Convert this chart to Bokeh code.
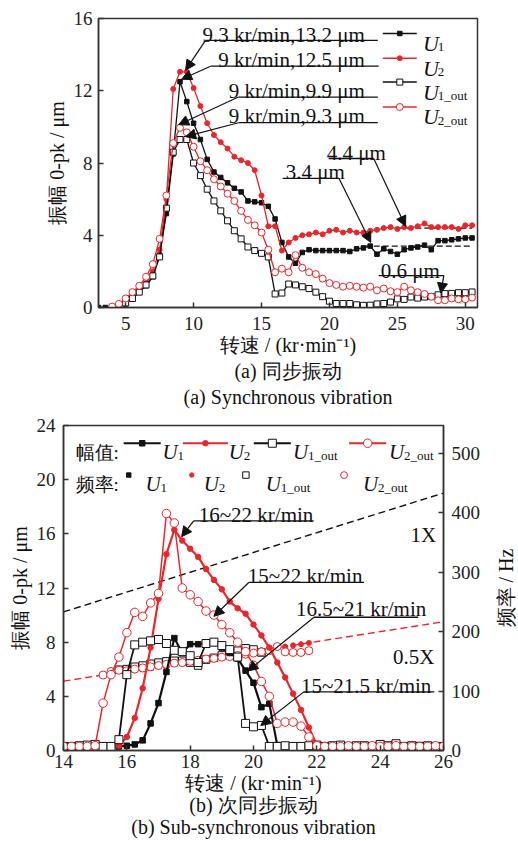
import math
from bokeh.plotting import figure
from bokeh.models import Range1d, LinearAxis, Label, Arrow, NormalHead, FixedTicker
from bokeh.layouts import row
from bokeh.embed import file_html
from bokeh.resources import INLINE

NAN = float("nan")
FONT = "Liberation Serif"
RED = "#e8262b"
BLACK = "#111111"
AXC = "#333333"

# ---------------- data (a) synchronous vibration ----------------
speed_a = [3.0, 3.5, 4.0, 4.5, 5.0, 5.5, 6.0, 6.5, 7.0, 7.5,
           8.0, 8.5, 9.0, 9.5, 10.0, 10.5, 11.0, 11.5, 12.0, 12.5,
           13.0, 13.5, 14.0, 14.5, 15.0, 15.5, 16.0, 16.5, 17.0, 17.5,
           18.0, 18.5, 19.0, 19.5, 20.0, 20.5, 21.0, 21.5, 22.0, 22.5,
           23.0, 23.5, 24.0, 24.5, 25.0, 25.5, 26.0, 26.5, 27.0, 27.5,
           28.0, 28.5, 29.0, 29.5, 30.0, 30.5]
u1_a = [0.0, 0.0, 0.0, 0.05, 0.2, 0.55, 0.85, 1.2, 1.7, 2.9,
        5.2, 8.5, 12.5, 11.4, 10.2, 9.3, 8.2, 7.5, 7.2, 6.9,
        6.6, 6.4, 5.9, 5.85, 5.8, 5.6, 4.9, 3.6, 2.8, 2.45,
        3.05, 3.2, 3.15, 3.15, 3.15, 3.15, 3.15, 3.1, 3.25, 3.3,
        3.4, 2.95, 3.25, 3.1, 2.95, 3.2, 3.3, 3.35, 3.45, 3.2,
        3.7, 3.7, 3.75, 3.8, 3.85, 3.85]
u2_a = [NAN, NAN, 0.05, 0.15, 0.35, 0.65, 0.95, 1.35, 2.0, 3.2,
        6.0, 12.1, 13.05, 13.05, 12.15, 11.15, 10.2, 9.55, 9.15, 8.8,
        8.35, 8.15, 8.0, 7.6, 6.2, 4.5, 4.5, 3.15, 3.6, 3.85,
        4.0, 4.05, 4.15, 4.05, 4.25, 4.3, 4.15, 4.25, 4.15, 4.15,
        4.25, 4.3, 4.4, 4.45, 4.35, 4.45, 4.4, 4.5, 4.65, 4.45,
        4.45, 4.45, 4.45, 4.35, 4.55, 4.55]
u1out_a = [NAN, NAN, NAN, 0.05, 0.25, 0.5, 0.85, 1.25, 1.75, 2.8,
           5.5, 8.6, 9.3, 9.3, 8.0, 7.3, 6.55, 5.9, 5.35, 4.8,
           4.25, 3.8, 3.35, 3.15, 3.0, 2.8, 0.75, 0.8, 1.3, 1.25,
           1.15, 1.05, 0.85, 0.6, 0.35, 0.22, 0.22, 0.22, 0.15, 0.12,
           0.13, 0.2, 0.22, 0.3, 0.48, 0.45, 0.58, 0.52, 0.58, 0.6,
           0.7, 0.77, 0.78, 0.82, 0.82, 0.86]
u2out_a = [NAN, NAN, 0.05, 0.2, 0.5, 0.85, 1.2, 1.7, 2.4, 3.8,
           6.2, 9.1, 9.95, 9.7, 8.9, 8.1, 7.6, 7.1, 6.7, 6.3,
           5.9, 5.35, 4.85, 4.55, 4.15, 3.2, 1.95, 2.15, 1.95, 2.9,
           2.2, 1.95, 1.85, 1.6, 1.35, 1.25, 1.15, 1.2, 1.15, 1.1,
           1.15, 0.95, 1.05, 0.9, 0.85, 1.15, 0.95, 0.85, 0.75, 0.6,
           0.4, 0.4, 0.5, 0.45, 0.45, 0.55]
ref_levels_a = [3.4, 4.4, 0.6]
ref_start_a = [22.6, 25.0, 25.5]
ref_end_a = [30.5, 30.5, 30.5]
peak_texts_a = ["9.3 kr/min,13.2 \u03bcm", "9 kr/min,12.5 \u03bcm",
                "9 kr/min,9.9 \u03bcm", "9 kr/min,9.3 \u03bcm"]
peak_points_a = [(9.41, 13.14), (9.12, 12.64), (8.9, 10.12), (9.41, 9.46)]
level_texts_a = ["4.4 \u03bcm", "3.4 \u03bcm", "0.6 \u03bcm"]
level_points_a = [(25.6, 4.5), (23.04, 3.6), (28.2, 0.8)]

# ---------------- data (b) sub-synchronous vibration ----------------
speed_b = [14.0, 14.25, 14.5, 14.75, 15.0, 15.25, 15.5, 15.75,
           16.0, 16.25, 16.5, 16.75, 17.0, 17.25, 17.5, 17.75,
           18.0, 18.25, 18.5, 18.75, 19.0, 19.25, 19.5, 19.75,
           20.0, 20.25, 20.5, 20.75, 21.0, 21.25, 21.5, 21.75,
           22.0, 22.25, 22.5, 22.75, 23.0, 23.25, 23.5, 23.75,
           24.0, 24.25, 24.5, 24.75, 25.0, 25.25, 25.5, 25.75, 26.0]
u1_b = [0.3, 0.3, 0.3, 0.3, 0.3, 0.3, 0.3, 0.3,
        0.35, 0.45, 0.75, 2.0, 3.5, 5.8, 8.3, 7.2,
        7.85, 7.85, 7.95, 7.95, 7.6, 7.2, 6.8, 5.9,
        5.0, 3.2, 3.45, 0.4, 0.3, 0.25, 0.2, 0.25,
        0.3, 0.3, 0.25, 0.3, 0.3, 0.35, 0.3, 0.25,
        0.3, 0.35, 0.3, 0.3, 0.25, 0.4, 0.35, 0.3, 0.3]
u2_b = [0.3, 0.3, 0.3, 0.3, 0.3, 0.3, 0.3, 0.35,
        1.0, 2.4, 4.6, 7.6, 11.2, 14.5, 16.3, 15.5,
        14.9, 14.3, 13.4, 12.6, 11.9, 11.0, 10.5, 10.1,
        9.3, 8.5, 7.6, 6.5, 5.4, 4.2, 3.0, 1.7,
        0.4, 0.3, 0.3, 0.3, 0.35, 0.4, 0.35, 0.3,
        0.3, 0.3, 0.35, 0.3, 0.3, 0.35, 0.3, 0.3, 0.3]
u1out_b = [0.3, 0.3, 0.35, 0.4, 0.45, 0.3, 0.3, 0.8,
           5.6, 7.8, 8.0, 8.1, 8.2, 7.9, 7.4, 7.3,
           7.0, 6.5, 7.9, 8.0, 7.75, 7.45, 6.9, 2.0,
           1.75, 1.85, 0.3, 0.3, 0.35, 0.3, 0.3, 0.35,
           0.4, 0.3, 0.35, 0.4, 0.3, 0.35, 0.35, 0.3,
           0.45, 0.35, 0.5, 0.3, 0.35, 0.3, 0.35, 0.3, 0.3]
u2out_b = [0.3, 0.3, 0.3, 0.3, 0.35, 3.5, 5.6, 6.9,
           8.7, 10.2, 9.9, 10.9, 11.6, 17.5, 16.8, 12.0,
           11.5, 11.0, 10.3, 10.0, 9.3, 8.7, 8.0, 7.3,
           6.3, 5.1, 4.0, 2.0, 2.1, 2.1, 1.8, 1.0,
           0.35, 0.3, 0.3, 0.3, 0.35, 0.3, 0.3, 0.35,
           0.3, 0.3, 0.35, 0.3, 0.3, 0.3, 0.3, 0.35, 0.3]
# sub-synchronous frequency (Hz)
f_u1_speed = [16.5, 16.75, 17.0, 17.25, 17.5, 17.75, 18.0, 18.25, 18.5,
              18.75, 19.0, 19.25, 19.5, 19.75, 20.0, 20.25, 20.5]
f_u1 = [137, 139, 142, 143, 146, 147, 149, 150, 152, 155, 157, 160, 161, 163, 166, 167, 170]
f_u2_speed = [16.0, 16.25, 16.5, 16.75, 17.0, 17.25, 17.5, 17.75, 18.0, 18.25,
              18.5, 18.75, 19.0, 19.25, 19.5, 19.75, 20.0, 20.25, 20.5, 20.75,
              21.0, 21.25, 21.5, 21.75]
f_u2 = [133, 135, 137, 139, 142, 144, 146, 148, 150, 152, 154, 156, 158, 160,
        162, 164, 167, 169, 171, 173, 175, 177, 179, 181]
f_u1out_speed = [15.75, 16.0, 16.25, 16.5, 16.75, 17.0, 17.25, 17.5, 17.75, 18.0,
                 18.25, 18.5, 18.75, 19.0, 19.25, 19.5, 19.75, 20.0, 20.25]
f_u1out = [136, 137, 141, 143, 146, 148, 150, 151, 151, 148, 143, 153, 156, 160,
           165, 168, 172, 170, 165]
f_u2out_speed = [15.25, 15.5, 15.75, 16.0, 16.25, 16.5, 16.75, 17.0, 17.25, 17.5,
                 17.75, 18.0, 18.25, 18.5, 18.75, 19.0, 19.25, 19.5, 19.75, 20.0,
                 20.25, 20.5, 20.75, 21.0, 21.25, 21.5, 21.75]
f_u2out = [127, 133, 135, 134, 137, 139, 141, 143, 145, 147, 148, 150, 152, 154,
           155, 157, 158, 160, 162, 164, 166, 168, 175, 166, 165, 165, 168]
order_speed = [14.0, 26.0]
one_x_hz = [233.3, 433.3]
half_x_hz = [116.7, 216.7]
range_texts_b = ["16~22 kr/min", "15~22 kr/min", "16.5~21 kr/min", "15~21.5 kr/min"]
range_points_b = [(17.73, 15.79), (18.75, 9.91), (19.82, 5.87), (20.23, 1.84)]

XLABEL = "转速 / (kr·min\u207b\u00b9)"
YLABEL = "振幅 0-pk / \u03bcm"
FREQ_LABEL = "频率 / Hz"


def lab(p, x, y, text, size="21px", style="normal", align="left",
        baseline="alphabetic", color="#111111", angle=0.0):
    p.add_layout(Label(x=x, y=y, text=text, text_font=FONT, text_font_size=size,
                       text_font_style=style, text_align=align, text_baseline=baseline,
                       text_color=color, angle=angle))


def arrow(p, x0, y0, x1, y1):
    p.add_layout(Arrow(end=NormalHead(size=10, fill_color=BLACK, line_color=BLACK, line_width=1),
                       x_start=x0, y_start=y0, x_end=x1, y_end=y1,
                       line_color=BLACK, line_width=1.2))


def style_axis(ax, ticks, standoff, label_standoff, line_height=1.1):
    ax.ticker = FixedTicker(ticks=ticks)
    ax.major_tick_in = 5
    ax.major_tick_out = 0
    ax.minor_tick_in = 0
    ax.minor_tick_out = 0
    ax.axis_line_color = AXC
    ax.axis_line_width = 1.5
    ax.major_tick_line_color = AXC
    ax.major_tick_line_width = 1.5
    ax.major_label_text_font = FONT
    ax.major_label_text_font_size = "19px"
    ax.major_label_text_color = "#222222"
    ax.major_label_standoff = standoff
    ax.axis_label_text_font = FONT
    ax.axis_label_text_font_size = "20px"
    ax.axis_label_text_font_style = "normal"
    ax.axis_label_text_color = "#111111"
    ax.axis_label_text_line_height = line_height
    ax.axis_label_standoff = label_standoff


def base_fig(width, height, xr, yr, bl, br, bt, bb):
    p = figure(width=width, height=height, x_range=Range1d(*xr), y_range=Range1d(*yr),
               output_backend="svg", toolbar_location=None,
               min_border_left=bl, min_border_right=br, min_border_top=bt,
               min_border_bottom=bb)
    p.grid.visible = False
    p.outline_line_color = AXC
    p.outline_line_width = 1.5
    p.background_fill_color = "white"
    p.border_fill_color = "white"
    return p


# ======================= figure (a) =======================
pA = base_fig(518, 411, (3.0, 30.9), (0, 16), 98, 41, 18, 98)
pA.xaxis.axis_label = XLABEL + "\n(a) 同步振动\n(a) Synchronous vibration"
pA.yaxis.axis_label = YLABEL
style_axis(pA.xaxis[0], [5, 10, 15, 20, 25, 30], 9, 1, 1.2)
style_axis(pA.yaxis[0], [0, 4, 8, 12, 16], 6, 3)

for lvl, xs, xe in zip(ref_levels_a, ref_start_a, ref_end_a):
    pA.line([xs, xe], [lvl, lvl], line_color=BLACK, line_width=1.2, line_dash="6 3")

series_a = [
    (u1_a, BLACK, "square", BLACK, 4.5),
    (u2_a, RED, "circle", RED, 5),
    (u1out_a, BLACK, "square", "white", 6),
    (u2out_a, RED, "circle", "white", 7),
]
for vals, col, mk, fill, sz in series_a:
    pA.line(speed_a, vals, line_color=col, line_width=1.3)
    pA.scatter(speed_a, vals, marker=mk, size=sz, line_color=col, fill_color=fill, line_width=1)

# legend (a)
leg_rows_a = [15.17, 13.8, 12.48, 11.1]
subs = ["1", "2", "1_out", "2_out"]
for (vals, col, mk, fill, sz), yy, sb in zip(series_a, leg_rows_a, subs):
    pA.line([23.93, 26.43], [yy, yy], line_color=col, line_width=1.5)
    pA.scatter([25.18], [yy], marker=mk, size=sz, line_color=col, fill_color=fill, line_width=1)
    lab(pA, 26.88, yy - 0.55, "U", size="22px", style="italic")
    lab(pA, 27.98, yy - 0.77, sb, size="13px")

# peak annotations (a)
ul_a = [(10.88, 23.56, 14.79), (11.25, 23.63, 13.36), (13.3, 23.56, 11.65), (13.3, 23.56, 10.23)]
txt_y_a = [15.06, 13.69, 12.0, 10.6]
for t, (px, py), (x0, x1, yu), ty in zip(peak_texts_a, peak_points_a, ul_a, txt_y_a):
    pA.line([x0, x1], [yu, yu], line_color=BLACK, line_width=1.3)
    arrow(pA, x0, yu, px, py)
    lab(pA, 22.6, ty, t, align="right")

lvl_ul = [(19.94, 23.26, 8.25), (16.56, 20.7, 7.15), (23.63, 28.42, 1.76)]
lvl_txt = [(19.8, 8.58), (16.78, 7.48), (23.78, 2.03)]
lvl_from = [(23.26, 8.25), (20.7, 7.15), (28.42, 1.76)]
for t, (px, py), (x0, x1, yu), (tx, ty), (fx, fy) in zip(level_texts_a, level_points_a, lvl_ul, lvl_txt, lvl_from):
    pA.line([x0, x1], [yu, yu], line_color=BLACK, line_width=1.3)
    arrow(pA, fx, fy, px, py)
    lab(pA, tx, ty, t)

# ======================= figure (b) =======================
pB = base_fig(493, 429, (14, 26), (0, 24), 63, 50, 14, 0)
pB.extra_y_ranges = {"freq": Range1d(0, 547)}
axR = LinearAxis(y_range_name="freq")
pB.add_layout(axR, "right")
pB.xaxis[0].axis_label = XLABEL + "\n(b) 次同步振动\n(b) Sub-synchronous vibration"
pB.yaxis[0].axis_label = YLABEL
style_axis(pB.xaxis[0], [14, 16, 18, 20, 22, 24, 26], 4, 1, 1.0)
style_axis(pB.yaxis[0], [0, 4, 8, 12, 16, 20, 24], 8, 3)
style_axis(axR, [0, 100, 200, 300, 400, 500], 8, 4)

pB.line(order_speed, one_x_hz, y_range_name="freq", line_color=BLACK, line_width=1.4, line_dash="7 4")
pB.line(order_speed, half_x_hz, y_range_name="freq", line_color=RED, line_width=1.4, line_dash="7 4")

freq_series = [
    (f_u1_speed, f_u1, BLACK, "square", BLACK, 5),
    (f_u2_speed, f_u2, RED, "circle", RED, 5),
    (f_u1out_speed, f_u1out, BLACK, "square", "white", 7.5),
    (f_u2out_speed, f_u2out, RED, "circle", "white", 8),
]
for xs, ys, col, mk, fill, sz in freq_series:
    pB.scatter(xs, ys, y_range_name="freq", marker=mk, size=sz, line_color=col,
               fill_color=fill, line_width=1)

series_b = [
    (u1_b, BLACK, "square", BLACK, 5.5, 2.2),
    (u2_b, RED, "circle", RED, 5.5, 2.2),
    (u1out_b, BLACK, "square", "white", 8, 1.8),
    (u2out_b, RED, "circle", "white", 8.5, 1.5),
]
for vals, col, mk, fill, sz, lw in series_b:
    pB.line(speed_b, vals, line_color=col, line_width=lw)
    pB.scatter(speed_b, vals, marker=mk, size=sz, line_color=col, fill_color=fill, line_width=1)

# legend (b)
lab(pB, 14.38, 22.03, "幅值:", size="19px")
lab(pB, 14.38, 19.68, "频率:", size="19px")
leg_line_b = [(15.9, 17.07), (17.77, 19.19), (20.01, 21.18), (23.02, 24.19)]
leg_u1_b = [17.13, 19.22, 21.25, 24.28]
leg_mk2_b = [16.06, 18.05, 19.76, 22.86]
leg_u2_b = [16.59, 18.43, 20.39, 23.46]
for (vals, col, mk, fill, sz, lw), (x0, x1), ux, mx, ux2, sb in zip(series_b, leg_line_b, leg_u1_b, leg_mk2_b, leg_u2_b, subs):
    pB.line([x0, x1], [22.69, 22.69], line_color=col, line_width=2)
    pB.scatter([(x0 + x1) / 2], [22.69], marker=mk, size=sz, line_color=col, fill_color=fill, line_width=1)
    lab(pB, ux, 22.03, "U", size="21px", style="italic")
    lab(pB, ux + 0.47, 21.75, sb, size="13px")
    pB.scatter([mx], [20.34], marker=mk, size=sz * 0.8, line_color=col, fill_color=fill, line_width=1)
    lab(pB, ux2, 19.68, "U", size="21px", style="italic")
    lab(pB, ux2 + 0.47, 19.4, sb, size="13px")

ul_b = [(18.11, 21.9, 16.96), (19.85, 23.49, 12.41), (21.91, 25.2, 9.84), (21.59, 25.71, 4.33)]
txt_b = [(18.27, 17.4), (19.82, 12.92), (21.34, 10.43), (21.5, 4.77)]
for t, (px, py), (x0, x1, yu), (tx, ty) in zip(range_texts_b, range_points_b, ul_b, txt_b):
    pB.line([x0, x1], [yu, yu], line_color=BLACK, line_width=1.3)
    arrow(pB, x0, yu, px, py)
    lab(pB, tx, ty, t)

lab(pB, 25.77, 15.93, "1X", align="right")
lab(pB, 25.71, 6.9, "0.5X", align="right")

# narrow strip carrying the right-axis title (reads bottom-to-top)
pC = figure(width=25, height=429, x_range=Range1d(0, 1), y_range=Range1d(0, 1),
            output_backend="svg", toolbar_location=None,
            x_axis_location=None, y_axis_location=None,
            min_border_left=0, min_border_right=0, min_border_top=14, min_border_bottom=88)
pC.grid.visible = False
pC.outline_line_color = None
pC.background_fill_color = "white"
pC.border_fill_color = "white"
lab(pC, 0.5, 0.5, FREQ_LABEL, size="20px", align="center", baseline="middle", angle=math.pi / 2)

open("out.html", "w").write(file_html([pA, row(pB, pC)], INLINE))
